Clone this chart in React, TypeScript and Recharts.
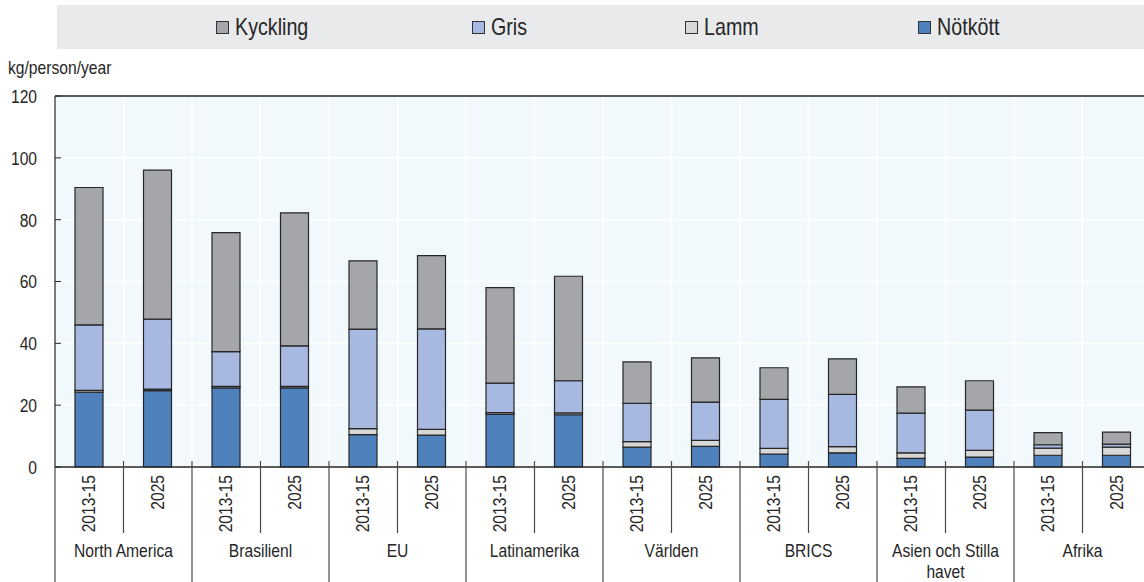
import React from "react";
import { BarChart, Bar, XAxis, YAxis, CartesianGrid, ReferenceLine } from "recharts";

const regions = [
  "North America",
  "Brasilienl",
  "EU",
  "Latinamerika",
  "Världen",
  "BRICS",
  "Asien och Stilla havet",
  "Afrika",
];
const periods = ["2013-15", "2025"];

const notkott = [24.2, 24.7, 25.6, 25.6, 10.5, 10.3, 17.0, 16.9, 6.4, 6.7, 4.2, 4.6, 2.8, 3.2, 3.8, 3.8];
const lamm = [0.6, 0.5, 0.5, 0.5, 1.9, 1.9, 0.6, 0.6, 1.8, 1.9, 1.8, 2.0, 1.8, 2.2, 2.3, 2.6];
const gris = [21.2, 22.6, 11.2, 13.1, 32.2, 32.5, 9.5, 10.4, 12.4, 12.4, 15.9, 16.9, 12.8, 13.0, 1.1, 1.0];
const kyckling = [44.4, 48.2, 38.5, 43.0, 22.1, 23.7, 30.9, 33.8, 13.4, 14.3, 10.2, 11.5, 8.5, 9.5, 3.9, 3.9];

const yTicks = [0, 20, 40, 60, 80, 100, 120];
const yUnit = "kg/person/year";

// legend order (left to right)
const legendSeries = [
  { key: "kyckling", name: "Kyckling", color: "#a5a6a9" },
  { key: "gris", name: "Gris", color: "#a8b9e1" },
  { key: "lamm", name: "Lamm", color: "#d7d7d8" },
  { key: "notkott", name: "Nötkött", color: "#4f81bd" },
];
// stacking order bottom -> top
const stackSeries = ["notkott", "lamm", "gris", "kyckling"];

const data = regions.flatMap((r, ri) =>
  periods.map((p, pi) => {
    const i = ri * periods.length + pi;
    return {
      key: `${r}|${p}`,
      region: r,
      period: p,
      notkott: notkott[i],
      lamm: lamm[i],
      gris: gris[i],
      kyckling: kyckling[i],
    };
  })
);

const FONT = "'Liberation Sans', Arial, sans-serif";
const NARROW = 0.82;
const NARROW_AXIS = 0.845;
const TEXT = "#262626";
const AXIS = "#262626";
const FS = 18.5;

const CHART_W = 1160;
const CHART_H = 582;
const MARGIN = { top: 96, right: 9, bottom: 0, left: 0 };
const Y_W = 55;
const X_H = 115;
const SLOT = (CHART_W - MARGIN.left - MARGIN.right - Y_W) / data.length;
const LEGEND_X = [216, 472, 685, 918];

function wrap(label: string, max: number): string[] {
  const words = label.split(" ");
  const lines: string[] = [];
  let cur = "";
  for (const w of words) {
    const t = cur ? cur + " " + w : w;
    if (t.length > max && cur) {
      lines.push(cur);
      cur = w;
    } else cur = t;
  }
  if (cur) lines.push(cur);
  return lines;
}

const NText = ({ x, y, rotate = 0, anchor = "start", size = FS, children, dy = 0 }: any) => (
  <text
    transform={`translate(${x},${y}) rotate(${rotate}) scale(${NARROW_AXIS},1)`}
    x={0}
    y={dy}
    textAnchor={anchor}
    dominantBaseline="central"
    fontFamily={FONT}
    fontSize={size}
    fill={TEXT}
  >
    {children}
  </text>
);

const XTick = (props: any) => {
  const { x, y, payload, index } = props;
  const i = payload?.index ?? index;
  const d = data[i];
  if (!d) return null;
  const half = SLOT / 2;
  const isGroupEnd = i % 2 === 1;
  const lines = wrap(d.region, 16);
  return (
    <g>
      <NText x={x} y={y + 8} rotate={-90} anchor="end">
        {d.period}
      </NText>
      {i === 0 && (
        <line x1={x - half} x2={x - half} y1={y} y2={y + X_H} stroke={AXIS} strokeWidth={1} />
      )}
      <line
        x1={x + half}
        x2={x + half}
        y1={y - 6}
        y2={isGroupEnd ? y + X_H : y + 66}
        stroke="#4a4a4a"
        strokeWidth={1.2}
      />
      {!isGroupEnd &&
        lines.map((l, li) => (
          <NText key={li} x={x + half} y={y + 84 + li * 21} anchor="middle">
            {l}
          </NText>
        ))}
    </g>
  );
};

const YTick = (props: any) => {
  const { x, y, payload } = props;
  return (
    <g>
      <NText x={x} y={y + 1} anchor="end">
        {payload.value}
      </NText>
      <line x1={x + 18} x2={x + 24} y1={y} y2={y} stroke={AXIS} strokeWidth={1} />
    </g>
  );
};

const verticalGen = ({ offset }: any) => {
  const pts: number[] = [];
  for (let i = 1; i < data.length; i++) pts.push(offset.left + (i * offset.width) / data.length);
  return pts;
};

export default function App() {
  return (
    <div
      style={{
        position: "absolute",
        left: 0,
        top: 0,
        width: 1144,
        height: 582,
        overflow: "hidden",
        background: "#ffffff",
        fontFamily: FONT,
      }}
    >
      <div
        style={{
          position: "absolute",
          left: 57,
          top: 5,
          width: 1087,
          height: 44,
          background: "#e9eaec",
        }}
      />
      {legendSeries.map((s, i) => (
        <div
          key={s.key}
          style={{
            position: "absolute",
            left: LEGEND_X[i],
            top: 5,
            height: 44,
            display: "flex",
            alignItems: "center",
            whiteSpace: "nowrap",
          }}
        >
          <div
            style={{
              width: 11,
              height: 11,
              background: s.color,
              border: "1px solid #333",
              marginRight: 6,
              flex: "none",
            }}
          />
          <span
            style={{
              fontSize: 24,
              color: TEXT,
              lineHeight: "24px",
              display: "inline-block",
              transform: `scaleX(${NARROW})`,
              transformOrigin: "left center",
            }}
          >
            {s.name}
          </span>
        </div>
      ))}
      <div
        style={{
          position: "absolute",
          left: 8,
          top: 58,
          fontSize: FS,
          color: TEXT,
          lineHeight: "20px",
          whiteSpace: "nowrap",
          transform: `scaleX(${NARROW_AXIS})`,
          transformOrigin: "left center",
        }}
      >
        {yUnit}
      </div>
      <div style={{ position: "absolute", left: 0, top: 0 }}>
        <BarChart width={CHART_W} height={CHART_H} data={data} margin={MARGIN} barSize={28}>
          <CartesianGrid
            fill="#f2f9fc"
            stroke="#ffffff"
            strokeWidth={1.5}
            verticalCoordinatesGenerator={verticalGen}
          />
          <XAxis
            dataKey="key"
            type="category"
            height={X_H}
            interval={0}
            tickLine={false}
            tickSize={0}
            tickMargin={0}
            axisLine={{ stroke: AXIS, strokeWidth: 1.5 }}
            tick={<XTick />}
          />
          <YAxis
            width={Y_W}
            domain={[0, 120]}
            ticks={yTicks}
            interval={0}
            tickLine={false}
            tickSize={0}
            tickMargin={18}
            axisLine={{ stroke: AXIS, strokeWidth: 1.2 }}
            tick={<YTick />}
          />
          <ReferenceLine y={120} stroke={AXIS} strokeWidth={1.5} />
          {stackSeries.map((k) => {
            const s = legendSeries.find((l) => l.key === k)!;
            return (
              <Bar
                key={k}
                dataKey={k}
                name={s.name}
                stackId="a"
                fill={s.color}
                stroke="#262626"
                strokeWidth={1.2}
                isAnimationActive={false}
              />
            );
          })}
        </BarChart>
      </div>
    </div>
  );
}
